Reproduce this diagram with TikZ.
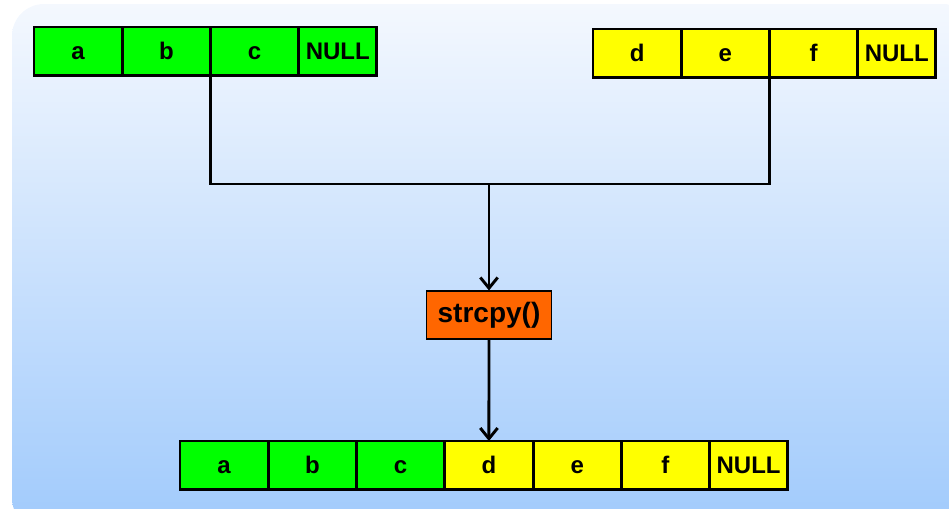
\documentclass[tikz,border=0pt]{standalone}
\usepackage{fontspec}
\setmainfont{Liberation Sans}
\usetikzlibrary{arrows.meta, positioning}

\tikzset{
  cell/.style={draw, line width=2.2pt, minimum width=66.2pt, minimum height=36.5pt,
    inner sep=0pt, outer sep=0pt, font=\fontsize{18}{18}\selectfont\bfseries,
    text height=12pt, text depth=0pt},
  nullcell/.style={cell, minimum width=58.5pt},
  func/.style={draw, line width=0.8pt, fill=funcorange, minimum width=93.5pt,
    minimum height=36pt, inner sep=0pt, font=\fontsize{21}{21}\selectfont\bfseries,
    text height=15pt, text depth=4pt},
  link/.style={line width=2.2pt},
  flow/.style={line width=2.2pt, -{Straight Barb[length=8pt, width=13pt]}}
}

\begin{document}
\begin{tikzpicture}[x=0.75pt, y=-0.75pt]
	% Define colors
	\definecolor{bgtop}{RGB}{244,248,254}      % Very light blue
	\definecolor{bgbottom}{RGB}{160,202,252}   % Light blue
	\definecolor{cellgreen}{RGB}{0,255,0}
	\definecolor{cellyellow}{RGB}{255,255,0}
	\definecolor{funcorange}{RGB}{255,102,0}

	% Background
	\clip (0,0) rectangle (949,508);
	\shade[top color=bgtop, bottom color=bgbottom, rounded corners=24pt] (12,4) rectangle (975,530);

	% First string
	\node[cell, fill=cellgreen, anchor=north west] (s1a) at (34,27) {a};
	\foreach \name/\prev/\label in {s1b/s1a/b, s1c/s1b/c}
	\node[cell, fill=cellgreen, right=0pt of \prev] (\name) {\label};
	\node[nullcell, fill=cellgreen, right=0pt of s1c] (s1null) {NULL};

	% Second string
	\node[cell, fill=cellyellow, anchor=north west] (s2d) at (593,29) {d};
	\foreach \name/\prev/\label in {s2e/s2d/e, s2f/s2e/f}
	\node[cell, fill=cellyellow, right=0pt of \prev] (\name) {\label};
	\node[nullcell, fill=cellyellow, right=0pt of s2f] (s2null) {NULL};

	% Result string
	\node[cell, fill=cellgreen, anchor=north west] (r1) at (180,441) {a};
	\foreach \name/\prev/\label/\col in {r2/r1/b/cellgreen, r3/r2/c/cellgreen,
		r4/r3/d/cellyellow, r5/r4/e/cellyellow, r6/r5/f/cellyellow}
	\node[cell, fill=\col, right=0pt of \prev] (\name) {\label};
	\node[nullcell, fill=cellyellow, right=0pt of r6] (rnull) {NULL};

	% Function
	\node[func] (copy) at (489,315) {strcpy()};

	% Connectors
	\coordinate (join) at (489,184);
	\draw[link] (s1c.south west) |- (join);
	\draw[link] (s2f.south west) |- (join);
	\draw[flow] (join) -- (copy.north);
	\draw[flow] (copy.south) -- (r4.north);

\end{tikzpicture}
\end{document}
